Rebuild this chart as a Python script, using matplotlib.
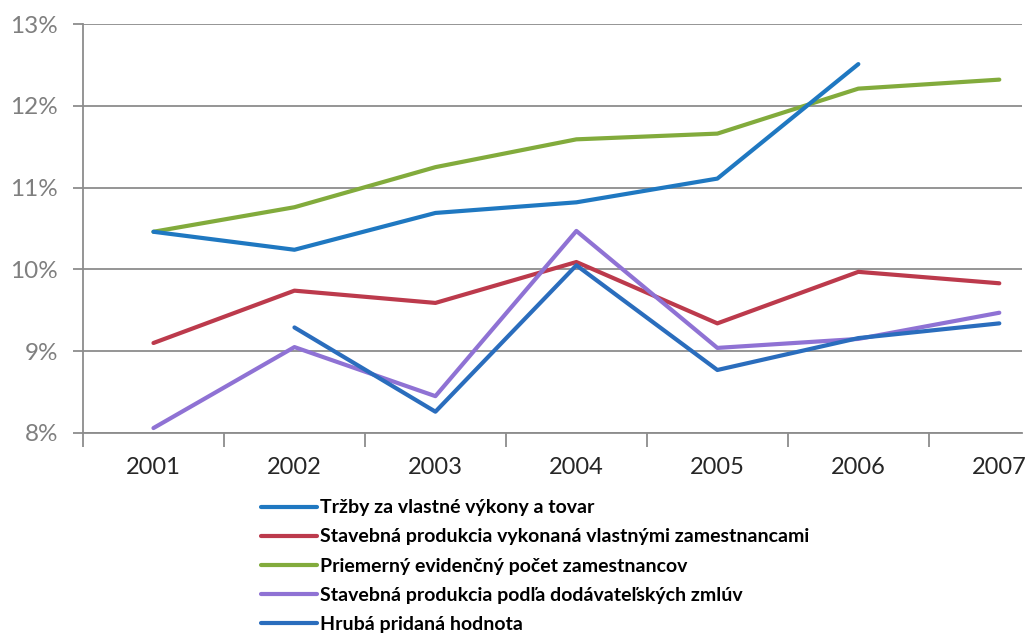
import numpy as np
import matplotlib.pyplot as plt

years = ['2001', '2002', '2003', '2004', '2005', '2006', '2007']

trzby = [10.46, 10.24, 10.69, 10.82, 11.11, 12.51, np.nan]
stav_vlastne = [9.10, 9.74, 9.59, 10.09, 9.34, 9.97, 9.83]
priem_pocet = [10.46, 10.76, 11.25, 11.59, 11.66, 12.21, 12.32]
stav_zmluvy = [8.06, 9.05, 8.45, 10.47, 9.04, 9.15, 9.47]
hruba = [np.nan, 9.29, 8.26, 10.05, 8.77, 9.16, 9.34]

labels = ['Tržby za vlastné výkony a tovar',
          'Stavebná produkcia vykonaná vlastnými zamestnancami',
          'Priemerný evidenčný počet zamestnancov',
          'Stavebná produkcia podľa dodávateľských zmlúv',
          'Hrubá pridaná hodnota']
colors = ['#1f78c1', '#bc3a4c', '#82ab3c', '#8f72d4', '#2a6dbd']

plt.rcParams['font.family'] = ['Lato', 'DejaVu Sans']

fig = plt.figure(figsize=(10.27, 6.37), dpi=100)
ax = fig.add_axes([0.0808, 0.3203, 0.9142, 0.642])

x = np.arange(len(years))
series = [trzby, stav_vlastne, priem_pocet, stav_zmluvy, hruba]
# green and purple first so the blue lines sit on top like in the original
order = [2, 1, 3, 0, 4]
lines = {}
for i in order:
    ln, = ax.plot(x, series[i], color=colors[i], lw=3, solid_capstyle='round',
                  label=labels[i], zorder=3)
    lines[i] = ln

ax.set_ylim(8, 13)
ax.set_xlim(-0.5, 6.16)
ax.set_yticks(range(8, 14))
ax.set_yticklabels(['{}%'.format(v) for v in range(8, 14)])
ax.set_xticks(x)
ax.set_xticklabels(years)
ax.set_xticks(np.arange(-0.5, 6.5, 1.0), minor=True)

ax.grid(axis='y', color='#8c8c8c', lw=1.3, zorder=0)
for s in ['top', 'right']:
    ax.spines[s].set_visible(False)
for s in ['left', 'bottom']:
    ax.spines[s].set_color('#8c8c8c')
    ax.spines[s].set_linewidth(1.3)

ax.tick_params(axis='y', length=7, width=1.3, color='#8c8c8c',
               labelsize=17.5, labelcolor='#7f7f7f', pad=11)
ax.tick_params(axis='x', which='major', length=0, labelsize=17,
               labelcolor='#262626', pad=17)
ax.tick_params(axis='x', which='minor', length=10, width=1.3, color='#8c8c8c')

handles = [lines[i] for i in range(5)]
fig.legend(handles, labels, loc='upper left', bbox_to_anchor=(0.254, 0.216),
           frameon=False, handlelength=2.9, handletextpad=0.15,
           labelspacing=0.62, borderpad=0, borderaxespad=0,
           prop={'weight': 'bold', 'size': 14})

fig.savefig('out.png', dpi=100)
